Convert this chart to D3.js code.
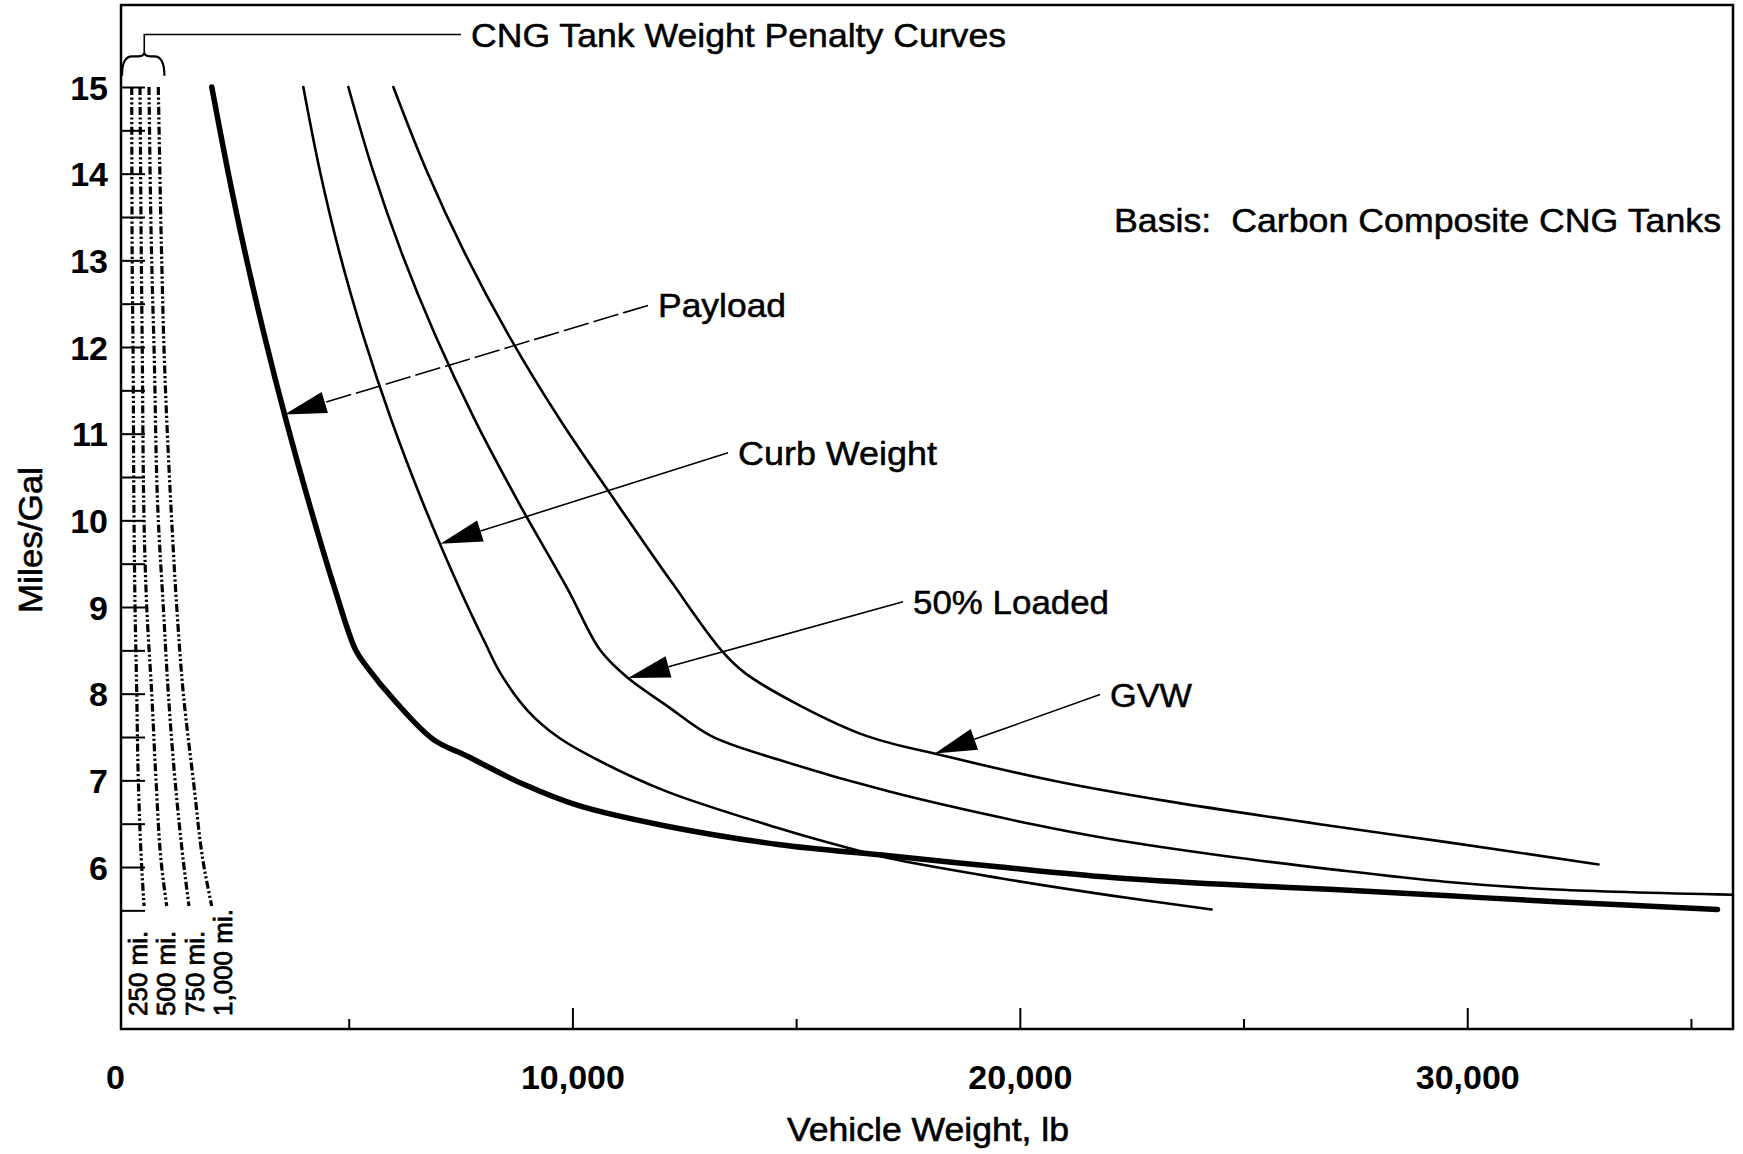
<!DOCTYPE html>
<html>
<head>
<meta charset="utf-8">
<script src="https://cdn.jsdelivr.net/npm/d3@7"></script>
<style>
  html, body { margin: 0; padding: 0; background: #fff; }
  svg { display: block; }
  text { font-family: "Liberation Sans", Arial, Helvetica, sans-serif; fill: #000; }
</style>
</head>
<body>
<svg id="chart" width="1743" height="1154"></svg>
<script>
// Fuel economy (miles/gal) against vehicle weight (lb), each point [weight, mpg]
const payload = [
  [1938, 15.0], [2295, 14.04], [2687, 13.08], [3121, 12.12], [3596, 11.16], [4113, 10.2],
  [4694, 9.2], [5157, 8.5], [5405, 8.31], [6026, 7.92], [6896, 7.47], [7642, 7.28],
  [8884, 6.96], [10125, 6.71], [12114, 6.47], [14596, 6.26], [17083, 6.13], [19566, 6.0],
  [22052, 5.88], [24537, 5.8], [27020, 5.74], [29504, 5.67], [31989, 5.6], [35593, 5.51]
];
const curbWeight = [
  [3985, 15.0], [4352, 14.04], [4797, 13.08], [5331, 12.12], [5950, 11.16], [6659, 10.2],
  [7488, 9.2], [8064, 8.57], [8386, 8.24], [9008, 7.8], [9678, 7.5], [10623, 7.22],
  [12114, 6.87], [14596, 6.45], [16089, 6.23], [17083, 6.1], [19566, 5.87], [22052, 5.67],
  [24287, 5.51]
];
const loaded50 = [
  [4991, 15.0], [5538, 14.04], [6187, 13.08], [6947, 12.12], [7819, 11.16], [8804, 10.2],
  [9900, 9.2], [10623, 8.5], [11243, 8.18], [12114, 7.86], [13107, 7.51], [14596, 7.24],
  [17083, 6.87], [20313, 6.49], [22052, 6.32], [24537, 6.13], [27020, 5.97], [29504, 5.83],
  [31989, 5.74], [35940, 5.68]
];
const gvw = [
  [5997, 15.0], [6736, 14.04], [7597, 13.08], [8592, 12.12], [9723, 11.16], [10988, 10.2],
  [12240, 9.27], [13330, 8.5], [13853, 8.24], [15096, 7.86], [16584, 7.51], [18326, 7.28],
  [20809, 6.99], [23295, 6.76], [27020, 6.47], [29504, 6.29], [32935, 6.03]
];

// CNG tank weight penalty (lb) for each driving range, each point [weight, mpg]
const rangeLabels = ["250 mi.", "500 mi.", "750 mi.", "1,000 mi."];
const penalty250 = [[150, 15], [160, 13], [179, 12], [201, 10], [224, 9], [262, 8], [297, 7], [373, 6], [425, 5.55]];
const penalty500 = [[335, 15], [365, 13], [385, 12], [425, 10], [485, 9], [597, 8], [693, 7], [820, 6], [932, 5.55]];
const penalty750 = [[536, 15], [596, 13], [648, 12], [744, 10], [856, 9], [968, 8], [1118, 7], [1319, 6], [1430, 5.55]];
const penalty1000 = [[744, 15], [820, 13], [870, 12], [1043, 10], [1156, 9], [1303, 8], [1527, 7], [1766, 6], [1938, 5.55]];

// Axis ticks
const xTickLabels = [0, 10000, 20000, 30000];
const xMajorTicks = [10000, 20000, 30000];
const xMinorTicks = [5000, 15000, 25000, 35000];
const yTickLabels = [6, 7, 8, 9, 10, 11, 12, 13, 14, 15];
const yTicks = d3.range(5.5, 15.01, 0.5);

// Callouts pointing at each weight curve: arrow tip and leader start, in data units
const callouts = [
  { text: "Payload",     tip: [3566, 11.22],  from: [11690, 12.48], width: 128, dash: "26,5" },
  { text: "Curb Weight", tip: [7049, 9.73],   from: [13478, 10.78], width: 199, dash: null },
  { text: "50% Loaded",  tip: [11243, 8.18],  from: [17389, 9.06],  width: 196, dash: null },
  { text: "GVW",         tip: [18100, 7.31],  from: [21792, 7.99],  width: 82,  dash: null }
];

const svg = d3.select("#chart");
const frame = { left: 121, top: 5, right: 1733, bottom: 1029 };

const x = d3.scaleLinear().domain([-90, 35940]).range([frame.left, frame.right]);
const y = d3.scaleLinear().domain([4.131, 15.946]).range([frame.bottom, frame.top]);

const line = d3.line()
  .x(d => x(d[0]))
  .y(d => y(d[1]))
  .curve(d3.curveCatmullRom.alpha(0.5));

// Tick marks along the bottom, pointing inward
function tickAxis(values, size) {
  const g = svg.append("g")
    .attr("transform", `translate(0,${frame.bottom})`)
    .call(d3.axisBottom(x).tickValues(values).tickSize(-size).tickFormat(""));
  g.select(".domain").remove();
  g.selectAll(".tick line").attr("stroke", "#000").attr("stroke-width", 2);
}
tickAxis(xMajorTicks, 21);
tickAxis(xMinorTicks, 10);

const xLab = svg.append("g")
  .attr("transform", `translate(0,${frame.bottom})`)
  .call(d3.axisBottom(x).tickValues(xTickLabels).tickSize(0).tickPadding(36)
    .tickFormat(d => d === 0 ? "0" : d3.format(",")(d)));
xLab.select(".domain").remove();
xLab.selectAll("text")
  .style("font-family", "'Liberation Sans', Arial, sans-serif")
  .style("font-size", "34px").style("font-weight", "bold").attr("fill", "#000")
  .attr("dx", d => d === 0 ? -10 : 0);

// Left axis ticks, every half mile per gallon, pointing inward
const yT = svg.append("g")
  .attr("transform", `translate(${frame.left},0)`)
  .call(d3.axisLeft(y).tickValues(yTicks).tickSize(-24).tickFormat(""));
yT.select(".domain").remove();
yT.selectAll(".tick line").attr("stroke", "#000").attr("stroke-width", 2);

const yLab = svg.append("g")
  .attr("transform", `translate(${frame.left},0)`)
  .call(d3.axisLeft(y).tickValues(yTickLabels).tickSize(0).tickPadding(13));
yLab.select(".domain").remove();
yLab.selectAll("text")
  .style("font-family", "'Liberation Sans', Arial, sans-serif")
  .style("font-size", "34px").style("font-weight", "bold").attr("fill", "#000")
  .attr("dy", "0.36em");

// Plot frame
svg.append("rect")
  .attr("x", frame.left).attr("y", frame.top)
  .attr("width", frame.right - frame.left).attr("height", frame.bottom - frame.top)
  .attr("fill", "none").attr("stroke", "#000").attr("stroke-width", 2.5);

// Tank weight penalty curves (dash-dot-dot)
const penalties = [penalty250, penalty500, penalty750, penalty1000];
const penaltyLine = d3.line()
  .x(d => x(d[0]))
  .y(d => y(d[1]))
  .curve(d3.curveMonotoneY);
svg.append("g").selectAll("path")
  .data(penalties)
  .join("path")
  .attr("d", penaltyLine)
  .attr("fill", "none")
  .attr("stroke", "#000")
  .attr("stroke-width", 3.2)
  .attr("stroke-dasharray", "8,2.5,2.2,2.5,2.2,2.5");

// Range labels under each penalty curve, reading upward
svg.append("g").selectAll("text")
  .data(rangeLabels)
  .join("text")
  .attr("transform", (d, i) => `translate(${147 + i * 28.3},1016) rotate(-90)`)
  .attr("font-size", 26)
  .attr("stroke", "#000").attr("stroke-width", 0.8)
  .text(d => d);

// Weight curves
const curves = [
  { data: payload, width: 5.5 },
  { data: curbWeight, width: 2.6 },
  { data: loaded50, width: 2.6 },
  { data: gvw, width: 2.6 }
];
svg.append("g").selectAll("path")
  .data(curves)
  .join("path")
  .attr("d", d => line(d.data))
  .attr("fill", "none")
  .attr("stroke", "#000")
  .attr("stroke-width", d => d.width)
  .attr("stroke-linecap", "round")
  .attr("stroke-linejoin", "round");

// Callout leaders with filled arrowheads
const cg = svg.append("g");
callouts.forEach(c => {
  const tx = x(c.tip[0]), ty = y(c.tip[1]);
  const fx = x(c.from[0]), fy = y(c.from[1]);
  const dx = fx - tx, dy = fy - ty;
  const len = Math.hypot(dx, dy);
  const ux = dx / len, uy = dy / len;
  const bx = tx + ux * 42, by = ty + uy * 42;
  const px = -uy * 11, py = ux * 11;
  cg.append("line")
    .attr("x1", fx).attr("y1", fy).attr("x2", bx).attr("y2", by)
    .attr("stroke", "#000").attr("stroke-width", 1.6)
    .attr("stroke-dasharray", c.dash);
  cg.append("path")
    .attr("d", `M${tx},${ty}L${bx + px},${by + py}L${bx - px},${by - py}Z`)
    .attr("fill", "#000");
  cg.append("text")
    .attr("x", fx + 10).attr("y", fy + 12)
    .attr("font-size", 34)
    .attr("textLength", c.width).attr("lengthAdjust", "spacingAndGlyphs")
    .attr("stroke", "#000").attr("stroke-width", 0.5)
    .text(c.text);
});

// Brace grouping the penalty curves, with its leader to the heading
const braceL = frame.left + 1, braceR = x(880), braceM = x(430);
const braceTop = y(15.4), braceEnd = y(15.13);
svg.append("path")
  .attr("d", `M${braceL},${braceEnd} Q${braceL},${braceTop + 4} ${braceL + 10},${braceTop + 4}
              L${braceM - 6},${braceTop + 4} Q${braceM},${braceTop + 4} ${braceM},${braceTop}
              Q${braceM},${braceTop + 4} ${braceM + 6},${braceTop + 4}
              L${braceR - 10},${braceTop + 4} Q${braceR},${braceTop + 4} ${braceR},${braceEnd}`)
  .attr("fill", "none").attr("stroke", "#000").attr("stroke-width", 2.2);
svg.append("path")
  .attr("d", `M${braceM},${braceTop} L${braceM},34.5 L461,34.5`)
  .attr("fill", "none").attr("stroke", "#000").attr("stroke-width", 1.6);
svg.append("text")
  .attr("x", 471).attr("y", 47)
  .attr("font-size", 34)
  .attr("textLength", 535).attr("lengthAdjust", "spacingAndGlyphs")
  .attr("stroke", "#000").attr("stroke-width", 0.5)
  .text("CNG Tank Weight Penalty Curves");

// Basis note
svg.append("text")
  .attr("x", 1114).attr("y", 232)
  .attr("font-size", 34)
  .attr("textLength", 607).attr("lengthAdjust", "spacingAndGlyphs")
  .attr("stroke", "#000").attr("stroke-width", 0.5)
  .attr("xml:space", "preserve")
  .style("white-space", "pre")
  .text("Basis:  Carbon Composite CNG Tanks");

// Axis titles
svg.append("text")
  .attr("x", 928).attr("y", 1141)
  .attr("text-anchor", "middle")
  .attr("font-size", 34)
  .attr("textLength", 282).attr("lengthAdjust", "spacingAndGlyphs")
  .attr("stroke", "#000").attr("stroke-width", 0.6)
  .text("Vehicle Weight, lb");
svg.append("text")
  .attr("transform", "translate(42,540) rotate(-90)")
  .attr("text-anchor", "middle")
  .attr("font-size", 33)
  .attr("textLength", 146).attr("lengthAdjust", "spacingAndGlyphs")
  .attr("stroke", "#000").attr("stroke-width", 0.6)
  .text("Miles/Gal");
</script>
</body>
</html>
